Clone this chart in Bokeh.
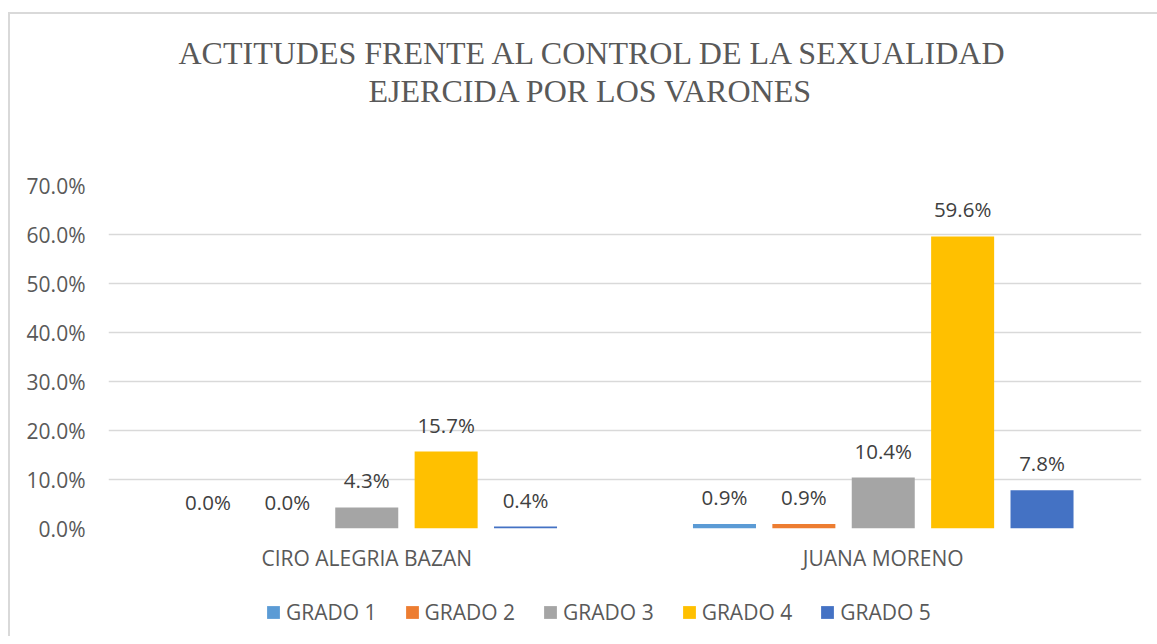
from bokeh.plotting import figure
from bokeh.layouts import column
from bokeh.models import (ColumnDataSource, FactorRange, Range1d, FixedTicker,
                          PrintfTickFormatter, Legend, LegendItem, Title)
from bokeh.transform import dodge
from bokeh.core.properties import value
from bokeh.embed import file_html
from bokeh.resources import INLINE

categories = ["CIRO ALEGRIA BAZAN", "JUANA MORENO"]
series = ["GRADO 1", "GRADO 2", "GRADO 3", "GRADO 4", "GRADO 5"]
grado1 = [0.0, 0.9]
grado2 = [0.0, 0.9]
grado3 = [4.3, 10.4]
grado4 = [15.7, 59.6]
grado5 = [0.4, 7.8]
colors = ["#5B9BD5", "#ED7D31", "#A5A5A5", "#FFC000", "#4472C4"]
title_lines = ["ACTITUDES FRENTE AL CONTROL DE LA SEXUALIDAD",
               "EJERCIDA POR LOS VARONES"]
y_ticks = [0, 10, 20, 30, 40, 50, 60, 70]

values = [grado1, grado2, grado3, grado4, grado5]
data = {"cat": categories}
for name, vals in zip(series, values):
    data[name] = vals
    data[name + "_lbl"] = ["%.1f%%" % v for v in vals]
source = ColumnDataSource(data)

FONT = "Open Sans"
TXT = "#595959"
AX_FS = "21px"
W = 1147

p = figure(x_range=FactorRange(*categories, range_padding=0),
           y_range=Range1d(0, 70),
           width=W, height=565,
           output_backend="svg", toolbar_location=None,
           min_border_left=98, min_border_right=16,
           min_border_top=171, min_border_bottom=51)
p.outline_line_color = None
p.background_fill_color = "white"
p.border_fill_color = "white"

offsets = [-0.3074, -0.1537, 0.0, 0.1537, 0.3074]
bar_w = 0.122
for name, col, off in zip(series, colors, offsets):
    p.vbar(x=dodge("cat", off, range=p.x_range), top=name, width=bar_w,
           source=source, fill_color=col, line_color=None)
    p.text(x=dodge("cat", off, range=p.x_range), y=name, text=name + "_lbl",
           source=source, text_align="center", text_baseline="alphabetic",
           y_offset=-27, text_font=value(FONT), text_font_size="20.5px",
           text_color="#404040")

# axes
p.yaxis.ticker = FixedTicker(ticks=y_ticks)
p.yaxis.formatter = PrintfTickFormatter(format="%.1f%%")
p.yaxis.axis_line_color = None
p.yaxis.major_tick_line_color = None
p.yaxis.minor_tick_line_color = None
p.yaxis.major_tick_out = 0
p.yaxis.major_label_standoff = 23
p.yaxis.major_label_text_font = FONT
p.yaxis.major_label_text_font_size = AX_FS
p.yaxis.major_label_text_color = TXT

p.xaxis.axis_line_color = None
p.xaxis.major_tick_line_color = None
p.xaxis.major_tick_out = 0
p.xaxis.major_label_standoff = 15
p.xaxis.major_label_text_font = FONT
p.xaxis.major_label_text_font_size = AX_FS
p.xaxis.major_label_text_color = TXT

p.xgrid.grid_line_color = None
p.ygrid.grid_line_color = "#D9D9D9"
p.ygrid.grid_line_width = 1.5

# title: spacer nearest the plot, then line 2, then line 1
p.add_layout(Title(text=" ", text_font_size="10px", standoff=64), "above")
p.add_layout(Title(text=title_lines[1], align="left", offset=260, standoff=0,
                   text_font="Liberation Serif", text_font_size="32px",
                   text_font_style="normal", text_color=TXT), "above")
p.add_layout(Title(text=title_lines[0], align="left", offset=70, standoff=0,
                   text_font="Liberation Serif", text_font_size="32px",
                   text_font_style="normal", text_color=TXT), "above")

# legend strip below the chart (its frame aligns with the chart's frame)
lg = figure(x_range=Range1d(0, 1), y_range=Range1d(0, 1), width=W, height=57,
            output_backend="svg", toolbar_location=None,
            x_axis_location=None, y_axis_location=None,
            min_border=0, min_border_left=0, min_border_right=0,
            min_border_top=0, min_border_bottom=0)
lg.outline_line_color = None
lg.xgrid.grid_line_color = None
lg.ygrid.grid_line_color = None
items = []
for name, col in zip(series, colors):
    # zero-height key renderers: only their legend swatches are visible
    r = lg.vbar(x=[0], top=[0], bottom=[0], width=0.0, fill_color=col,
                line_color=None)
    items.append(LegendItem(label=name, renderers=[r]))
legend = Legend(items=items, orientation="horizontal", location=(157, 10),
                glyph_width=16, glyph_height=16, label_standoff=5, spacing=27,
                padding=0, margin=0, border_line_color=None,
                background_fill_alpha=0,
                label_text_font=FONT, label_text_font_size=AX_FS,
                label_text_color=TXT)
lg.add_layout(legend, "center")

layout = column(p, lg, spacing=0)
layout.styles = {"border-left": "2px solid #D9D9D9", "border-top": "2px solid #D9D9D9",
                 "margin-top": "12px", "margin-left": "8px"}

open("out.html", "w").write(file_html(layout, INLINE))
